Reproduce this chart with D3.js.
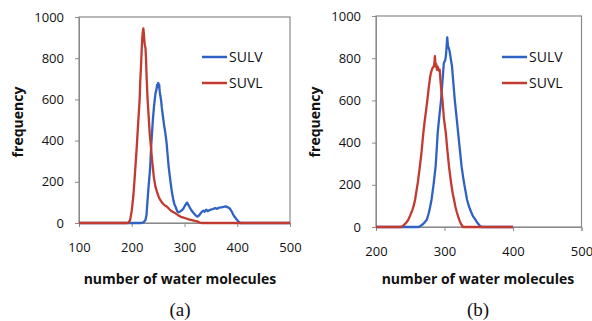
<!DOCTYPE html>
<html>
<head>
<meta charset="utf-8">
<script src="https://cdn.jsdelivr.net/npm/d3@7"></script>
<style>
  body { margin: 0; background: #fff; }
  svg { display: block; }
  .tick text { font-family: "Open Sans", sans-serif; font-size: 13px; fill: #111; }
</style>
</head>
<body>
<div id="chart"></div>
<script>
// panel (a) data: [number of water molecules, frequency]
const aSULV = [[100,0],[218,0],[222,3],[226,15],[228,40],[230,112],[232,180],[234,240],[235,273],[236,330],[237,380],[238.4,435],[240,500],[242,560],[243.5,597],[245,630],[247,650],[248,670],[249,660],[250,680],[251,665],[252,672],[253,640],[254,620],[255.6,597],[257,560],[259,520],[261,480],[263.8,435],[266,390],[268,330],[270,273],[272,230],[274,190],[276.5,144],[279,110],[281,90],[283,79],[285,65],[287,55],[289,52],[292,56],[295,62],[298,70],[301,85],[304,96],[305,99],[307,90],[310,75],[313,62],[316,52],[320,40],[324,31],[327,35],[330,45],[333,55],[336,60],[338,54],[341,65],[344,57],[347,62],[350,65],[354,68],[358,72],[362,69],[366,75],[370,76],[374,78],[378,81],[382,76],[386,70],[389,58],[392,42],[395,30],[398,20],[402,8],[406,0],[500,0]];
const aSUVL = [[100,0],[190,0],[194,2],[197,15],[200,60],[203,130],[205,200],[207,275],[209,350],[211,435],[213,520],[215,600],[216,680],[217.5,760],[219,850],[220,900],[221,930],[222,945],[223,918],[224,880],[225,862],[226,850],[227,800],[228,720],[230,600],[232,520],[234,435],[236,380],[238,320],[240,270],[242,220],[245,175],[248,150],[251,128],[254,112],[257,100],[260,92],[263,85],[267,79],[271,68],[275,58],[279,52],[283,47],[288,38],[293,30],[298,26],[302,23],[308,18],[314,14],[320,10],[324,8],[328,3],[332,0],[500,0]];

// panel (b) data
const bSULV = [[200,0],[262,0],[264,3],[268,12],[271,22],[274,33],[277,65],[279,95],[281,128],[284,200],[287,286],[288.5,360],[290,444],[292,510],[295,602],[297,690],[299,776],[301,790],[302,810],[303,850],[304,899],[305,860],[306,850],[307,840],[308,823],[309,800],[311,760],[313,680],[315,602],[317,540],[320,444],[322,380],[325,286],[327,240],[329,200],[331,165],[333,128],[336,95],[339,70],[342,49],[345,35],[348,20],[351,8],[354,0],[400,0]];
const bSUVL = [[200,0],[236,0],[238,3],[241,10],[244,20],[247,33],[250,55],[253,80],[255,100],[257,128],[259,170],[261,210],[263,260],[264,286],[266,340],[267.5,390],[269,444],[271,500],[273,550],[275,602],[277,660],[279,710],[280,728],[282,750],[284,760],[285,770],[286,810],[287,760],[288,772],[289,745],[290,760],[291,750],[292,740],[293,745],[294,700],[295,660],[296,630],[297,602],[299,520],[300.5,480],[302,444],[304,370],[306.6,286],[308,250],[310,200],[312,160],[314,128],[316,95],[318,70],[320,49],[322,30],[324,15],[327,0],[400,0]];

const yTicks = [0, 200, 400, 600, 800, 1000];
const seriesNames = ["SULV", "SUVL"];
const colors = { SULV: "#2f62c4", SUVL: "#c23a30" };

const width = 592, height = 321;
const svg = d3.select("#chart").append("svg")
  .attr("width", width).attr("height", height);

const panels = [
  { x0: 79, x1: 290, y0: 223, y1: 17, dom: [100, 500], xt: [100, 200, 300, 400, 500], data: { SULV: aSULV, SUVL: aSUVL }, label: "(a)", lx: 202, cx: 180, fx: 18 },
  { x0: 376, x1: 581.5, y0: 227, y1: 16, dom: [200, 500], xt: [200, 300, 400, 500], data: { SULV: bSULV, SUVL: bSUVL }, label: "(b)", lx: 502, cx: 478, fx: 315 }
];

panels.forEach(p => {
  const x = d3.scaleLinear().domain(p.dom).range([p.x0, p.x1]);
  const y = d3.scaleLinear().domain([0, 1000]).range([p.y0, p.y1]);
  const g = svg.append("g");

  // plot border
  g.append("rect")
    .attr("x", p.x0).attr("y", p.y1)
    .attr("width", p.x1 - p.x0).attr("height", p.y0 - p.y1)
    .attr("fill", "none").attr("stroke", "#8a8a8a").attr("stroke-width", 1.2);

  const xa = g.append("g").attr("transform", `translate(0,${p.y0})`)
    .call(d3.axisBottom(x).tickValues(p.xt).tickSize(4).tickPadding(16).tickFormat(d3.format("d")));
  xa.select(".domain").attr("stroke", "#8a8a8a");
  xa.selectAll(".tick line").attr("stroke", "#8a8a8a");

  const ya = g.append("g").attr("transform", `translate(${p.x0},0)`)
    .call(d3.axisLeft(y).tickValues(yTicks).tickSize(4).tickPadding(11).tickFormat(d3.format("d")));
  ya.select(".domain").attr("stroke", "#8a8a8a");
  ya.selectAll(".tick line").attr("stroke", "#8a8a8a");

  const line = d3.line().x(d => x(d[0])).y(d => y(d[1]));
  seriesNames.forEach(name => {
    g.append("path")
      .datum(p.data[name])
      .attr("fill", "none")
      .attr("stroke", colors[name])
      .attr("stroke-width", 2.3)
      .attr("stroke-linejoin", "round")
      .attr("d", line);
  });

  // legend
  seriesNames.forEach((name, i) => {
    const ly = 57 + i * 26;
    g.append("line")
      .attr("x1", p.lx).attr("x2", p.lx + 25)
      .attr("y1", ly).attr("y2", ly)
      .attr("stroke", colors[name]).attr("stroke-width", 2.5);
    g.append("text")
      .attr("x", p.lx + 27).attr("y", ly)
      .attr("dy", "0.35em")
      .attr("font-family", "Open Sans, sans-serif")
      .attr("font-size", 14)
      .attr("fill", "#111")
      .text(name);
  });

  g.append("text")
    .attr("x", p.cx).attr("y", 279)
    .attr("dy", "0.35em")
    .attr("text-anchor", "middle")
    .attr("font-family", "Open Sans, sans-serif")
    .attr("font-weight", "bold")
    .attr("font-size", 14)
    .attr("fill", "#111")
    .text("number of water molecules");

  g.append("text")
    .attr("transform", `translate(${p.fx},122) rotate(-90)`)
    .attr("dy", "0.35em")
    .attr("text-anchor", "middle")
    .attr("font-family", "Open Sans, sans-serif")
    .attr("font-weight", "bold")
    .attr("font-size", 14)
    .attr("fill", "#111")
    .text("frequency");

  g.append("text")
    .attr("x", p.cx).attr("y", 309)
    .attr("dy", "0.35em")
    .attr("text-anchor", "middle")
    .attr("font-family", "Liberation Serif, serif")
    .attr("font-size", 19)
    .attr("fill", "#111")
    .text(p.label);
});
</script>
</body>
</html>
